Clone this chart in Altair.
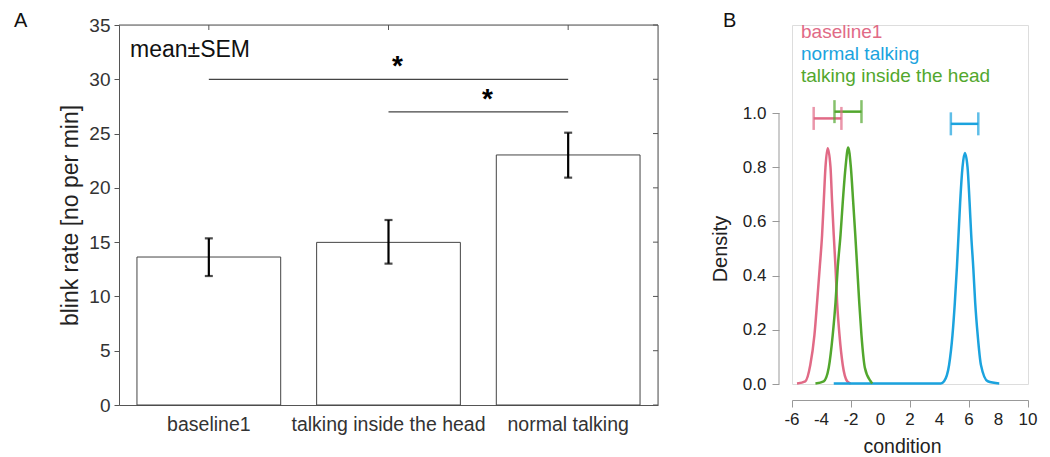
import altair as alt
import pandas as pd

FONT = "Liberation Sans"

# ---------------- Panel A data ----------------
categories = ["baseline1", "talking inside the head", "normal talking"]
means = [13.63, 14.98, 23.03]
sem_low = [11.88, 13.02, 20.94]
sem_high = [15.35, 17.04, 25.08]
a_y_ticks = [0, 5, 10, 15, 20, 25, 30, 35]
sig_from = [0, 1]
sig_to = [2, 2]
sig_level = [30, 27]

# ---------------- Panel B data ----------------
b1_x = [-5.66, -5.10, -4.76, -4.48, -4.30, -4.12, -3.96, -3.85, -3.73, -3.58,
        -3.39, -3.28, -3.17, -3.05, -2.94, -2.78, -2.56, -2.26, -2.03]
b1_d = [0.002, 0.01, 0.07, 0.18, 0.30, 0.43, 0.55, 0.67, 0.80, 0.87,
        0.80, 0.67, 0.55, 0.43, 0.30, 0.18, 0.07, 0.01, 0.002]
nt_x = [-3.17, 4.09, 4.31, 4.65, 4.88, 5.04, 5.18, 5.29, 5.40, 5.56, 5.72,
        5.90, 6.04, 6.15, 6.29, 6.42, 6.59, 6.81, 7.27, 8.05]
nt_d = [0.002, 0.002, 0.01, 0.07, 0.18, 0.30, 0.43, 0.55, 0.67, 0.80, 0.852,
        0.80, 0.67, 0.55, 0.43, 0.30, 0.18, 0.07, 0.01, 0.002]
ti_x = [-4.41, -3.85, -3.51, -3.24, -3.05, -2.90, -2.71, -2.56, -2.37, -2.19,
        -2.01, -1.85, -1.71, -1.58, -1.44, -1.29, -1.06, -0.67, -0.56]
ti_d = [0.002, 0.01, 0.06, 0.18, 0.30, 0.43, 0.55, 0.67, 0.80, 0.873,
        0.80, 0.67, 0.55, 0.43, 0.30, 0.18, 0.06, 0.01, 0.002]
b_names = ["baseline1", "normal talking", "talking inside the head"]
b_colors = ["#E16A86", "#1BA3DE", "#52A72D"]
iv_lo = [-4.53, 4.77, -3.12]
iv_hi = [-2.65, 6.63, -1.29]
iv_level = [0.98, 0.96, 1.005]
b_x_ticks = [-6, -4, -2, 0, 2, 4, 6, 8, 10]
b_y_ticks = [0.0, 0.2, 0.4, 0.6, 0.8, 1.0]

# ---------------- layout constants ----------------
W_A, H_A = 539, 380
W_B = 236
PX_PER_DENS = 271
H_B = 359
Y_TOP_B = H_B / PX_PER_DENS
X_OFF_B = 16
TICK_B = 7
AX = "#555555"
GR = "#999999"

# ================= Panel A =================
bars_df = pd.DataFrame({"cat": categories, "mean": means, "lo": sem_low, "hi": sem_high})
one = pd.DataFrame({"a": [0]})
ticks_df = pd.DataFrame({"t": a_y_ticks})

xA = alt.X("cat:N", sort=categories,
           scale=alt.Scale(paddingInner=0.2, paddingOuter=0.1),
           axis=alt.Axis(title=None, labelFontSize=19.5, labelColor="#333333",
                         ticks=False, labelPadding=10, domainColor=AX, labelAngle=0,
                         labelLimit=0))
xA_plain = alt.X("cat:N", sort=categories)
yA = alt.Y("mean:Q", scale=alt.Scale(domain=[0, 35], nice=False),
           axis=alt.Axis(values=a_y_ticks, title="blink rate [no per min]",
                         titleFontSize=23, titleFontWeight="normal", titleColor="#222222",
                         titlePadding=6, labelFontSize=19, labelColor="#333333",
                         tickSize=5, tickColor=AX, domainColor=AX, grid=False,
                         labelPadding=4))

bars = alt.Chart(bars_df).mark_bar(fill="white", stroke="#444444", strokeWidth=1).encode(x=xA, y=yA)
err = alt.Chart(bars_df).mark_rule(color="black", strokeWidth=2.2).encode(
    x=xA_plain, y="lo:Q", y2="hi:Q")
cap_lo = alt.Chart(bars_df).mark_tick(color="black", thickness=2.2, size=8, orient="horizontal").encode(
    x=xA_plain, y="lo:Q")
cap_hi = alt.Chart(bars_df).mark_tick(color="black", thickness=2.2, size=8, orient="horizontal").encode(
    x=xA_plain, y="hi:Q")
top_ticks = alt.Chart(bars_df).mark_rule(color=AX, strokeWidth=1).encode(
    x=xA_plain, y=alt.value(0), y2=alt.value(5))
right_ticks = alt.Chart(ticks_df).mark_rule(color=AX, strokeWidth=1).encode(
    y="t:Q", x=alt.value(W_A - 5), x2=alt.value(W_A))
frame_top = alt.Chart(one).mark_rule(color=AX, strokeWidth=1).encode(
    x=alt.value(0), x2=alt.value(W_A), y=alt.value(0))
frame_right = alt.Chart(one).mark_rule(color=AX, strokeWidth=1).encode(
    x=alt.value(W_A), y=alt.value(0), y2=alt.value(H_A))
mean_txt = alt.Chart(one).mark_text(text="mean±SEM", align="left", baseline="alphabetic",
                                    fontSize=23, color="#111111").encode(
    x=alt.value(11), y=alt.value(32))
label_A = alt.Chart(one).mark_text(text="A", align="left", baseline="alphabetic",
                                   fontSize=20, color="#111111").encode(
    x=alt.value(-105), y=alt.value(2))

band_layer = alt.layer(bars, err, cap_lo, cap_hi, top_ticks, right_ticks,
                       frame_top, frame_right, mean_txt, label_A)

sig_df = pd.DataFrame({"f": sig_from, "t": sig_to, "lvl": sig_level})
sig_base = alt.Chart(sig_df).transform_calculate(
    x1="datum.f + 0.5", x2="datum.t + 0.5", xm="(datum.f + datum.t) / 2 + 0.5")
xq = alt.X("x1:Q", scale=alt.Scale(domain=[0, len(categories)], nice=False, zero=False), axis=None)
sig_lines = sig_base.mark_rule(color="#444444", strokeWidth=1.2).encode(
    x=xq, x2="x2:Q", y="lvl:Q")
stars = sig_base.mark_text(text="*", fontSize=28, fontWeight="bold", dx=9, dy=-4,
                           baseline="alphabetic", color="black").encode(
    x=alt.X("xm:Q", scale=alt.Scale(domain=[0, len(categories)], nice=False, zero=False), axis=None),
    y="lvl:Q")
sig_layer = alt.layer(sig_lines, stars)

panelA = alt.layer(band_layer, sig_layer).resolve_scale(x="independent").properties(
    width=W_A, height=H_A)

# ================= Panel B =================
curves_df = pd.concat([
    pd.DataFrame({"name": b_names[0], "x": b1_x, "d": b1_d}),
    pd.DataFrame({"name": b_names[1], "x": nt_x, "d": nt_d}),
    pd.DataFrame({"name": b_names[2], "x": ti_x, "d": ti_d}),
])
iv_df = pd.DataFrame({"name": b_names, "lo": iv_lo, "hi": iv_hi, "lvl": iv_level})
xt_df = pd.DataFrame({"x": b_x_ticks})
color = alt.Color("name:N", scale=alt.Scale(domain=b_names, range=b_colors), legend=None)

xB = alt.X("x:Q", scale=alt.Scale(domain=[b_x_ticks[0], b_x_ticks[-1]], nice=False, zero=False),
           axis=alt.Axis(values=b_x_ticks, offset=X_OFF_B, tickSize=TICK_B, title="condition",
                         titleFontSize=19.5, titleFontWeight="normal", titleColor="#222222",
                         titlePadding=30, titleX=110, labels=False,
                         domainColor=GR, tickColor=GR, grid=False))
yB = alt.Y("d:Q", scale=alt.Scale(domain=[0, Y_TOP_B], nice=False),
           axis=alt.Axis(values=b_y_ticks, format=".1f", offset=13, tickSize=TICK_B, domain=False,
                         title="Density", titleFontSize=20, titleFontWeight="normal",
                         titleColor="#222222", titlePadding=12,
                         titleY=H_B - PX_PER_DENS / 2,
                         labelFontSize=17, labelColor="#222222", labelPadding=6,
                         labelOverlap=False, labelFlush=False,
                         tickColor=GR, grid=False))

curves = alt.Chart(curves_df).mark_line(strokeWidth=2.5, interpolate="monotone").encode(
    x=xB, y=yB, color=color, detail="name:N")
iv_line = alt.Chart(iv_df).mark_rule(strokeWidth=2.5).encode(
    x="lo:Q", x2="hi:Q", y="lvl:Q", color=color)
iv_cap_lo = alt.Chart(iv_df).mark_tick(orient="vertical", size=23, thickness=2.5).encode(
    x="lo:Q", y="lvl:Q", color=color)
iv_cap_hi = alt.Chart(iv_df).mark_tick(orient="vertical", size=23, thickness=2.5).encode(
    x="hi:Q", y="lvl:Q", color=color)
y_axis_line = alt.Chart(one).mark_rule(color=GR, strokeWidth=1).encode(
    x=alt.value(-13), y=alt.datum(b_y_ticks[0]), y2=alt.datum(b_y_ticks[-1]))
x_labels = alt.Chart(xt_df).transform_calculate(lab="toString(datum.x)").mark_text(
    baseline="top", align="center", fontSize=17, color="#222222").encode(
    x="x:Q", y=alt.value(H_B + X_OFF_B + TICK_B + 5), text="lab:N")

legend_txt = []
for i, (n, c) in enumerate(zip(b_names, b_colors)):
    legend_txt.append(
        alt.Chart(one).mark_text(text=n, align="left", baseline="alphabetic",
                                 fontSize=19, color=c).encode(
            x=alt.value(9), y=alt.value(13.3 + 21.7 * i)))
label_B = alt.Chart(one).mark_text(text="B", align="left", baseline="alphabetic",
                                   fontSize=20, color="#111111").encode(
    x=alt.value(-69), y=alt.value(2))

panelB = alt.layer(curves, iv_line, iv_cap_lo, iv_cap_hi, y_axis_line, x_labels, label_B,
                   *legend_txt).properties(width=W_B, height=H_B)

chart = alt.hconcat(panelA, panelB, spacing=134, bounds="flush").properties(
    padding={"left": 13, "top": 10, "right": 5, "bottom": 3},
    background="white",
).configure_view(stroke="transparent").configure(font=FONT).configure_axis(
    labelFont=FONT, titleFont=FONT).configure_text(font=FONT)

chart.save("out.html", embed_options={"renderer": "svg", "actions": False})
